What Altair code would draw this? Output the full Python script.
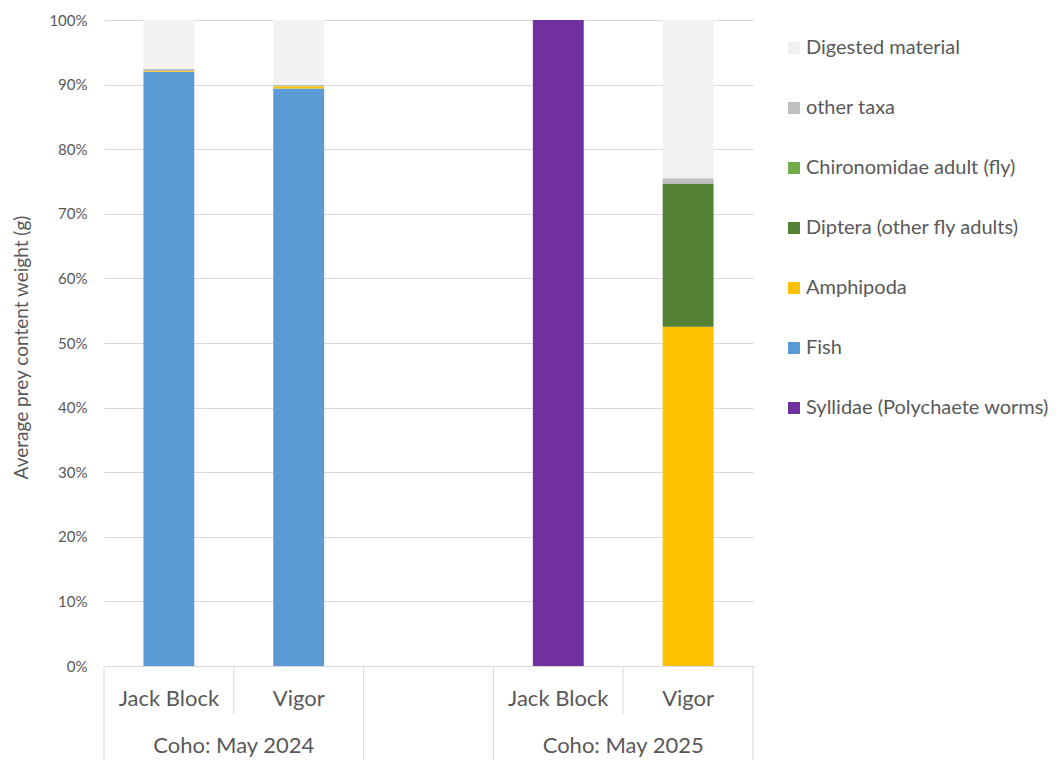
import altair as alt
import pandas as pd

# ---- data ----
slots = ["2024 Jack Block", "2024 Vigor", "gap", "2025 Jack Block", "2025 Vigor"]
bar_slots = ["2024 Jack Block", "2024 Vigor", "2025 Jack Block", "2025 Vigor"]

# stack order, bottom to top
taxa = ["Syllidae (Polychaete worms)", "Fish", "Amphipoda",
        "Diptera (other fly adults)", "Chironomidae adult (fly)",
        "other taxa", "Digested material"]
taxa_colors = ["#7030A0", "#5B9BD5", "#FFC000", "#548235", "#70AD47", "#BFBFBF", "#F2F2F2"]

jack_block_2024 = [0, 92.0, 0.1, 0, 0, 0.3, 7.6]
vigor_2024 = [0, 89.4, 0.35, 0, 0, 0.2, 10.05]
jack_block_2025 = [100, 0, 0, 0, 0, 0, 0]
vigor_2025 = [0, 0, 52.5, 22.2, 0, 0.8, 24.5]

sub_positions = [0.5, 1.5, 3.5, 4.5]
sub_labels = ["Jack Block", "Vigor", "Jack Block", "Vigor"]
group_positions = [1, 4]
group_labels = ["Coho: May 2024", "Coho: May 2025"]
long_edges = [0, 2, 3, 5]
short_edges = [1, 4]

y_ticks = [i / 10 for i in range(11)]

rows = []
for slot, vals in zip(bar_slots, [jack_block_2024, vigor_2024, jack_block_2025, vigor_2025]):
    for i, (t, v) in enumerate(zip(taxa, vals)):
        rows.append({"slot": slot, "taxon": t, "value": v, "rank": i})
df = pd.DataFrame(rows)

legend_order = taxa[::-1]
legend_colors = taxa_colors[::-1]

W, H = 649, 646
FONT = "Lato"
GREY = "#595959"
LINE = "#D9D9D9"

bars = alt.Chart(df).mark_bar().encode(
    x=alt.X("slot:N",
            scale=alt.Scale(domain=slots, paddingInner=0.608, paddingOuter=0.304),
            axis=alt.Axis(labels=False, ticks=False, title=None, domainColor=LINE, grid=False)),
    y=alt.Y("value:Q", stack="normalize", scale=alt.Scale(domain=[0, 1]),
            axis=alt.Axis(format=".0%", values=y_ticks, title="Average prey content weight (g)",
                          labelFont=FONT, labelFontSize=15, labelColor=GREY, labelPadding=17,
                          ticks=False, domain=False, gridColor=LINE,
                          titleFont=FONT, titleFontSize=19, titleColor=GREY, titleFontWeight="normal",
                          titleX=-83, titleY=H / 2 + 4, titleAngle=270, titleAlign="center",
                          titleBaseline="middle")),
    color=alt.Color("taxon:N", scale=alt.Scale(domain=legend_order, range=legend_colors),
                    legend=alt.Legend(title=None, orient="none", legendX=680, legendY=18,
                                      symbolType="square", symbolSize=144, symbolStrokeWidth=0,
                                      labelFont=FONT, labelFontSize=20, labelColor=GREY,
                                      labelOffset=2, rowPadding=40, labelLimit=400)),
    order=alt.Order("rank:Q"),
)

xq = alt.Scale(domain=[0, 5], nice=False, zero=False)

long_rules = alt.Chart(pd.DataFrame({"e": long_edges})).mark_rule(color=LINE).encode(
    x=alt.X("e:Q", scale=xq, axis=None), y=alt.value(H), y2=alt.value(H + 94))
short_rules = alt.Chart(pd.DataFrame({"e": short_edges})).mark_rule(color=LINE).encode(
    x=alt.X("e:Q", scale=xq, axis=None), y=alt.value(H), y2=alt.value(H + 48))
sub_text = alt.Chart(pd.DataFrame({"p": sub_positions, "label": sub_labels})).mark_text(
    font=FONT, fontSize=22, color=GREY, baseline="middle").encode(
    x=alt.X("p:Q", scale=xq, axis=None), y=alt.value(H + 33), text="label:N")
group_text = alt.Chart(pd.DataFrame({"p": group_positions, "label": group_labels})).mark_text(
    font=FONT, fontSize=22, color=GREY, baseline="middle").encode(
    x=alt.X("p:Q", scale=xq, axis=None), y=alt.value(H + 80), text="label:N")

chart = alt.layer(bars, long_rules, short_rules, sub_text, group_text).resolve_scale(
    x="independent"
).properties(
    width=W, height=H, padding={"left": 4, "top": 5, "right": 0, "bottom": 0}
).configure_view(stroke=None)

chart.save("out.html", embed_options={"renderer": "svg", "actions": False})
